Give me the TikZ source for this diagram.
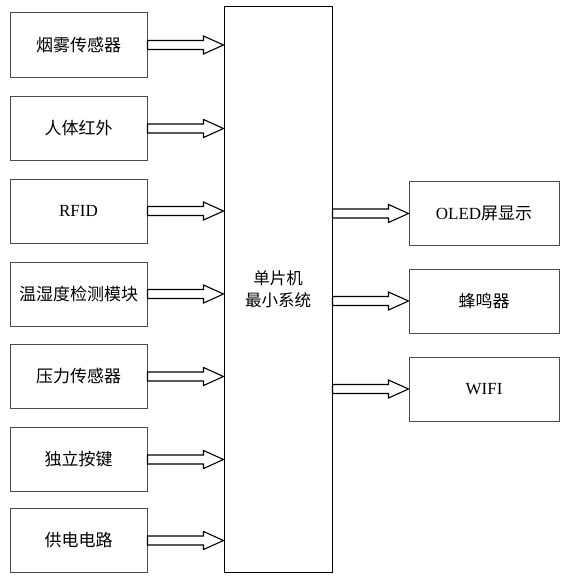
\documentclass[tikz,border=0pt]{standalone}
\usepackage{fontspec}
\setmainfont{Liberation Serif}
\newfontfamily\cjk{Noto Sans CJK SC}
\newfontfamily\latin{Liberation Serif}
\usetikzlibrary{calc}
\tikzset{
  box/.style={draw=black!70, line width=1pt, minimum width=137pt, minimum height=64pt, inner sep=0pt, font=\cjk\fontsize{17}{20}\selectfont},
  rbox/.style={box, minimum width=150pt},
  mcubox/.style={draw=black, line width=1pt, minimum width=108pt, minimum height=565pt, inner sep=0pt, align=center, font=\cjk\fontsize{16.5}{22}\selectfont},
  fat/.style={draw=black, line width=1.1pt, fill=white, line join=miter},
  lat/.style={font=\latin\fontsize{17}{20}\selectfont}
}
\newcommand\fatarrow[2]{\draw[fat] let \p1=(#1), \p2=(#2) in
  (\x1,\y1+4.5pt) -- (\x2-20pt,\y1+4.5pt) -- (\x2-20pt,\y1+9pt) -- (\x2,\y1) --
  (\x2-20pt,\y1-9pt) -- (\x2-20pt,\y1-4.5pt) -- (\x1,\y1-4.5pt) -- cycle;}
\begin{document}
\begin{tikzpicture}[x=1pt,y=-1pt]
\useasboundingbox (0,0) rectangle (572,578);
\node[box] (s1) at (78.5,45) {烟雾传感器};
\node[box] (s2) at (78.5,128.5) {人体红外};
\node[box, lat] (s3) at (78.5,211) {RFID};
\node[box] (s4) at (78.5,294) {温湿度检测模块};
\node[box] (s5) at (78.5,376.5) {压力传感器};
\node[box] (s6) at (78.5,459.5) {独立按键};
\node[box] (s7) at (78.5,540.5) {供电电路};
\node[mcubox] (mcu) at (278,289.5) {单片机\\最小系统};
\node[rbox] (o1) at (484,213.5) {{\latin OLED}屏显示};
\node[rbox] (o2) at (484,301) {蜂鸣器};
\node[rbox, lat] (o3) at (484,389) {WIFI};
\foreach \s in {s1,s2,s3,s4,s5,s6,s7}{
  \fatarrow{\s.east}{mcu.west |- \s.east}
}
\foreach \o in {o1,o2,o3}{
  \fatarrow{mcu.east |- \o.west}{\o.west}
}
\end{tikzpicture}
\end{document}
